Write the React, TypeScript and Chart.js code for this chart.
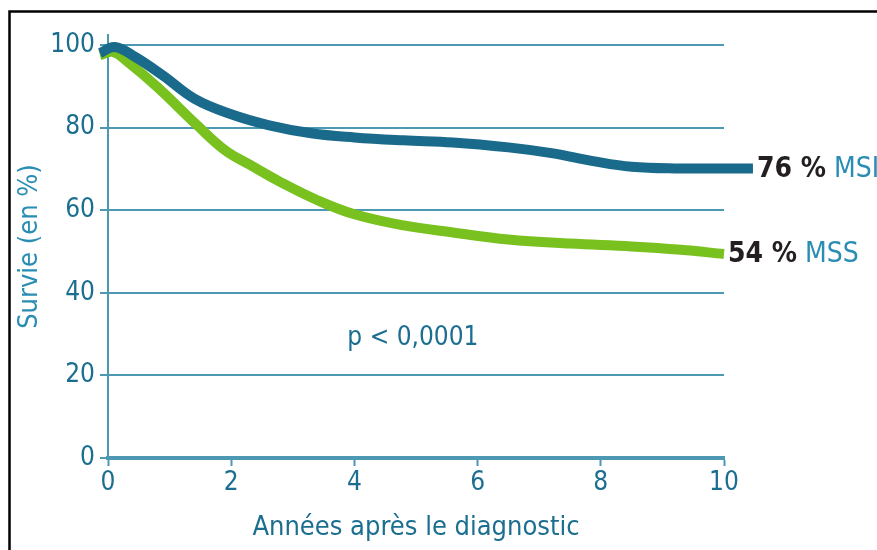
import React, { useEffect, useRef } from "react";
import { Chart, registerables } from "chart.js";

Chart.register(...registerables);

// ---- data ----
const msiYears = [-0.13, 0.11, 0.44, 0.9, 1.4, 2.0, 2.6, 3.3, 4.0, 4.8, 5.6, 6.5, 7.2, 7.9, 8.5, 9.2, 10.47];
const msiSurvival = [98, 99.5, 97.1, 92.5, 87, 83.2, 80.6, 78.6, 77.6, 76.9, 76.4, 75.2, 73.8, 71.8, 70.5, 70.1, 70.1];
const mssYears = [-0.13, 0.08, 0.32, 0.8, 1.45, 1.9, 2.3, 2.8, 3.4, 4.0, 4.8, 5.6, 6.5, 7.5, 8.5, 9.3, 10];
const mssSurvival = [97.5, 98.3, 95.9, 89.8, 80.5, 74.5, 71, 66.8, 62.4, 59, 56.3, 54.6, 52.9, 51.9, 51.2, 50.4, 49.4];
const xTickValues = [0, 2, 4, 6, 8, 10];
const yTickValues = [0, 20, 40, 60, 80, 100];
const msiEndLabel = ["76 %", "MSI"];
const mssEndLabel = ["54 %", "MSS"];
const pValueText = "p < 0,0001";
const pValueAt = [4.95, 29];
const xTitle = "Années après le diagnostic";
const yTitle = "Survie (en %)";

const FONT = '"DejaVu Sans Condensed", "Liberation Sans Narrow", "Liberation Sans", sans-serif';
const TEAL = "#1c6e90";
const TEAL_LIGHT = "#2a8db3";
const GRID = "#4d98b3";
const BLUE_LINE = "#1a6a8b";
const GREEN_LINE = "#79c11f";

const framePlugin = {
  id: "frame",
  beforeDraw(chart: any) {
    const { ctx, width, height } = chart;
    ctx.save();
    ctx.fillStyle = "#ffffff";
    ctx.fillRect(0, 0, width, height);
    ctx.strokeStyle = "#000000";
    ctx.lineWidth = 2.5;
    ctx.strokeRect(9.5, 11.5, width + 20, height + 20);
    ctx.restore();
  },
};

const annotationsPlugin = {
  id: "annots",
  afterDatasetsDraw(chart: any) {
    const { ctx } = chart;
    const xs = chart.scales.x;
    const ys = chart.scales.y;
    ctx.save();
    ctx.textBaseline = "middle";
    ctx.textAlign = "left";
    const labels = [msiEndLabel, mssEndLabel];
    chart.data.datasets.forEach((ds: any, i: number) => {
      const meta = chart.getDatasetMeta(i);
      const last = meta.data[meta.data.length - 1];
      const [bold, rest] = labels[i];
      let x = last.x + 4;
      const y = last.y + 1;
      ctx.font = `bold 28px ${FONT}`;
      ctx.fillStyle = "#231f20";
      ctx.fillText(bold, x, y);
      x += ctx.measureText(bold).width + 8;
      ctx.font = `28px ${FONT}`;
      ctx.fillStyle = TEAL_LIGHT;
      ctx.fillText(rest, x, y);
    });
    ctx.textAlign = "center";
    ctx.font = `26px ${FONT}`;
    ctx.fillStyle = TEAL;
    ctx.fillText(pValueText, xs.getPixelForValue(pValueAt[0]), ys.getPixelForValue(pValueAt[1]));
    ctx.restore();
  },
};

export default function App() {
  const ref = useRef<HTMLCanvasElement | null>(null);
  useEffect(() => {
    if (!ref.current) return;
    const chart = new Chart(ref.current, {
      type: "line",
      data: {
        datasets: [
          {
            label: "MSI",
            data: msiYears.map((x, i) => ({ x, y: msiSurvival[i] })),
            borderColor: BLUE_LINE,
            borderWidth: 10,
            pointRadius: 0,
            tension: 0.4,
            borderCapStyle: "butt",
            borderJoinStyle: "round",
            clip: false as any,
          },
          {
            label: "MSS",
            data: mssYears.map((x, i) => ({ x, y: mssSurvival[i] })),
            borderColor: GREEN_LINE,
            borderWidth: 10,
            pointRadius: 0,
            tension: 0.4,
            borderCapStyle: "butt",
            borderJoinStyle: "round",
            clip: false as any,
          },
        ],
      },
      options: {
        animation: false,
        responsive: false,
        layout: { padding: { top: 35, right: 153, left: 0, bottom: 0 } },
        plugins: { legend: { display: false }, tooltip: { enabled: false } },
        scales: {
          x: {
            type: "linear",
            min: 0,
            max: 10,
            afterBuildTicks: (s: any) => {
              s.ticks = xTickValues.map((v) => ({ value: v }));
            },
            afterFit: (s: any) => {
              s.height = 92;
            },
            border: { color: GRID, width: 4 },
            grid: { drawOnChartArea: false, drawTicks: true, tickLength: 8, tickWidth: 2, color: GRID },
            ticks: { color: TEAL, font: { family: FONT, size: 26 }, padding: 2, maxRotation: 0 },
            title: {
              display: true,
              text: xTitle,
              color: TEAL,
              font: { family: FONT, size: 27 },
              padding: { top: 6, bottom: 6 },
            },
          },
          y: {
            type: "linear",
            min: 0,
            max: 102.4,
            afterBuildTicks: (s: any) => {
              s.ticks = yTickValues.map((v) => ({ value: v }));
            },
            afterFit: (s: any) => {
              s.width = 108;
            },
            border: { color: GRID, width: 2 },
            grid: { drawOnChartArea: true, drawTicks: true, tickLength: 8, lineWidth: 2, tickWidth: 2, color: GRID },
            ticks: { color: TEAL, font: { family: FONT, size: 26 }, padding: 5 },
            title: {
              display: true,
              text: yTitle,
              color: TEAL_LIGHT,
              font: { family: FONT, size: 27 },
              padding: { top: 14, bottom: 14 },
            },
          },
        },
      },
      plugins: [framePlugin, annotationsPlugin],
    });
    return () => chart.destroy();
  }, []);
  return (
    <div style={{ position: "fixed", left: 0, top: 0, width: 877, height: 550 }}>
      <canvas ref={ref} width={877} height={550} style={{ width: 877, height: 550, display: "block" }} />
    </div>
  );
}
